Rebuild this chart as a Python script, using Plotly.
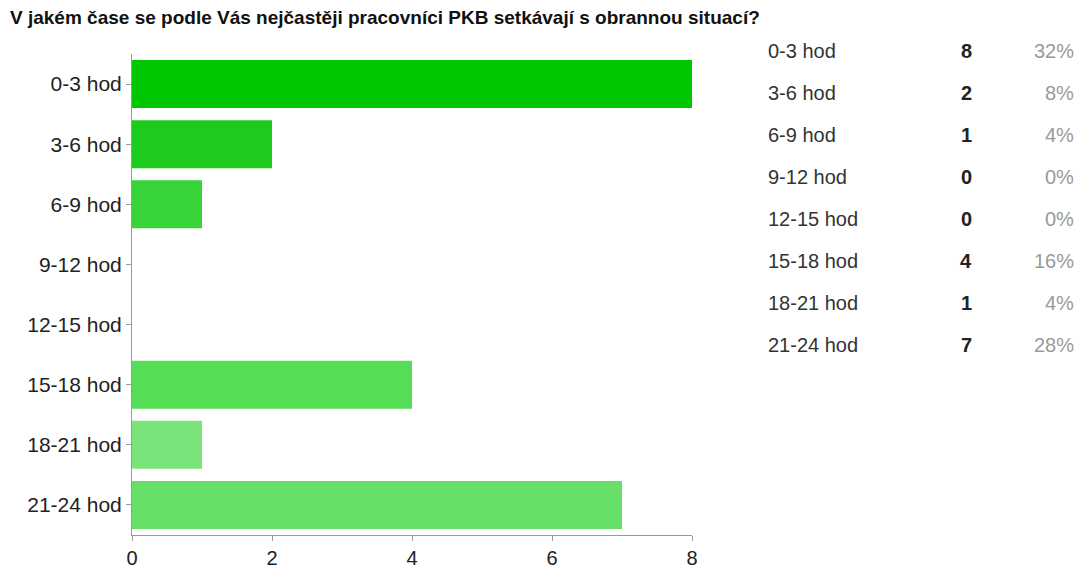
import plotly.graph_objects as go

title = "V jakém čase se podle Vás nejčastěji pracovníci PKB setkávají s obrannou situací?"
categories = ["0-3 hod", "3-6 hod", "6-9 hod", "9-12 hod", "12-15 hod", "15-18 hod", "18-21 hod", "21-24 hod"]
counts = [8, 2, 1, 0, 0, 4, 1, 7]
percents = ["32%", "8%", "4%", "0%", "0%", "16%", "4%", "28%"]
bar_colors = ["#00c800", "#1ccb1c", "#38d338", "#4ad94a", "#4ad94a", "#55dd55", "#7ae47a", "#66e066"]
x_ticks = [0, 2, 4, 6, 8]

# page has an 8px body margin; work in figure coordinates
OFF = 8
W, H = 1085 - OFF, 571 - OFF
PL, PR, PT, PB = 132 - OFF, 692 - OFF, 54 - OFF, 535 - OFF
PW, PH = PR - PL, PB - PT

fig = go.Figure()
fig.add_trace(go.Bar(
    x=counts, y=categories, orientation="h",
    marker=dict(color=bar_colors, line=dict(width=0)),
    width=0.8, hoverinfo="skip",
))

font_main = "Liberation Sans, Arial, sans-serif"

fig.update_layout(
    width=W, height=H,
    margin=dict(l=PL, r=W - PR, t=PT, b=H - PB, autoexpand=False),
    plot_bgcolor="white", paper_bgcolor="white",
    showlegend=False,
    font=dict(family=font_main, size=20, color="#222"),
    xaxis=dict(
        range=[0, 8], tickvals=x_ticks, showgrid=False, zeroline=False,
        showline=True, linecolor="#999", linewidth=1,
        ticks="outside", ticklen=5, tickcolor="#999",
        ticklabelstandoff=0, automargin=False,
        tickfont=dict(size=20, color="#222"),
    ),
    yaxis=dict(
        categoryorder="array", categoryarray=categories,
        range=[7.5, -0.5], showgrid=False, zeroline=False,
        showline=True, linecolor="#999", linewidth=1,
        ticks="outside", ticklen=5, tickcolor="#999",
        automargin=False,
        tickfont=dict(size=21, color="#222"),
    ),
)


def px(x):
    return (x - OFF - PL) / PW


def py(y):
    return 1 - (y - OFF - PT) / PH


fig.add_annotation(
    text="<b>" + title + "</b>", xref="paper", yref="paper",
    x=px(8), y=py(17), xanchor="left", yanchor="middle",
    showarrow=False,
    font=dict(family=font_main, size=19, color="#111"),
)

row0, step = 51, 42
for i, (c, n, p) in enumerate(zip(categories, counts, percents)):
    yy = py(row0 + i * step)
    fig.add_annotation(text=c, xref="paper", yref="paper", x=px(766), y=yy,
                       xanchor="left", yanchor="middle", showarrow=False,
                       font=dict(size=20, color="#333"))
    fig.add_annotation(text="<b>" + str(n) + "</b>", xref="paper", yref="paper", x=px(966), y=yy,
                       xanchor="center", yanchor="middle", showarrow=False,
                       font=dict(size=20, color="#222"))
    fig.add_annotation(text=p, xref="paper", yref="paper", x=px(1076), y=yy,
                       xanchor="right", yanchor="middle", showarrow=False,
                       font=dict(size=20, color="#999"))

fig.write_html("out.html")
